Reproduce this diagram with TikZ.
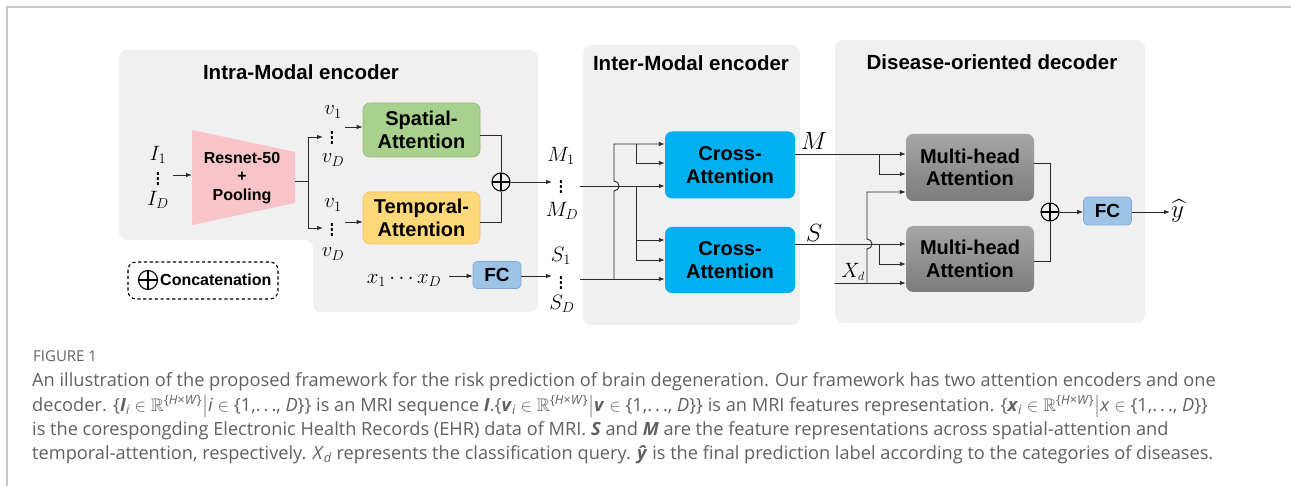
\documentclass[tikz,border=0pt]{standalone}
\usepackage{amsmath,amssymb}
\usepackage{fontspec}
\setmainfont{Liberation Sans}
\newfontfamily\capfont{Open Sans}
\usetikzlibrary{arrows.meta,calc}
\definecolor{panel}{HTML}{F0F0F0}
\definecolor{framec}{HTML}{C8C8C8}
\definecolor{greenf}{HTML}{A9D18E}
\definecolor{greend}{HTML}{8DBD72}
\definecolor{yelf}{HTML}{FFD87A}
\definecolor{yeld}{HTML}{EFC46A}
\definecolor{fcf}{HTML}{9DC3E6}
\definecolor{fcd}{HTML}{7FA8D4}
\definecolor{cyanf}{HTML}{00B0F0}
\definecolor{pinkf}{HTML}{F8C4C8}
\definecolor{linec}{HTML}{2A2A2A}
\definecolor{capgray}{HTML}{606060}
\definecolor{mhtop}{HTML}{A6A6A6}
\definecolor{mhbot}{HTML}{7C7C7C}
\newcommand\boxfont{\bfseries\fontsize{20}{22.5}\selectfont}
\newcommand\mlab{\fontsize{20.74}{20.74}\selectfont}
\newcommand\capsz{\capfont\fontsize{18.2}{24}\selectfont}
\newcommand\tallvdots{\scalebox{1}[1.35]{$\vdots$}}
\tikzset{
  ttl/.style={font=\bfseries\fontsize{20.5}{22}\selectfont, inner sep=0pt},
  blk/.style={rounded corners=7pt, align=center, font=\boxfont, inner sep=0pt},
  mbox/.style={blk, minimum width=128pt, minimum height=67pt, draw=none,
     top color=mhtop, bottom color=mhbot},
  cbox/.style={blk, minimum width=130pt, minimum height=67pt, fill=cyanf},
  fcbox/.style={rounded corners=4pt, fill=fcf, draw=fcd, line width=0.6pt,
     font=\bfseries\fontsize{19}{19}\selectfont, minimum width=48pt, minimum height=27pt, inner sep=0pt},
  lab/.style={font=\mlab, inner sep=0pt},
  biglab/.style={font=\fontsize{24.88}{24.88}\selectfont, inner sep=0pt},
  ln/.style={line width=0.9pt, draw=linec},
  arr/.style={ln, -{Latex[length=6pt,width=4.5pt]}},
  opl/.style={circle, draw=black, line width=1.1pt, minimum size=18pt, inner sep=0pt,
     path picture={\draw[line width=1.1pt] (path picture bounding box.north) -- (path picture bounding box.south)
       (path picture bounding box.west) -- (path picture bounding box.east);}},
  captext/.style={font=\capsz, text=capgray, inner sep=0pt, anchor=base west}
}
\begin{document}
\begin{tikzpicture}[x=1pt,y=-1pt]
\useasboundingbox (0,0) rectangle (1291,486);
% frame
\draw[framec, line width=1.5pt] (7,486) -- (7,7) -- (1291,7);
% panels
\fill[panel, rounded corners=8pt] (119,50) -- (538,50) -- (538,312) -- (313,312) -- (313,240) -- (119,240) -- cycle;
\fill[panel, rounded corners=8pt] (583,45) rectangle (800,325);
\fill[panel, rounded corners=8pt] (835,40) rectangle (1145,323);
\node[ttl] (t1) at (301,72) {Intra-Modal encoder};
\node[ttl] (t2) at (691,63) {Inter-Modal encoder};
\node[ttl] (t3) at (992,62) {Disease-oriented decoder};

% ---------- intra-modal ----------
\node[lab] (I1) at (158,155) {$I_1$};
\node[lab] (Id) at (158,175) {\tallvdots};
\node[lab] (ID) at (158,200) {$I_D$};
\fill[pinkf] (192,130) -- (295,152) -- (295,203) -- (192,225) -- cycle;
\node[align=center, font=\bfseries\fontsize{16}{18.5}\selectfont, inner sep=0pt] (resnet) at (242,178) {Resnet-50\\+\\Pooling};
\coordinate (iA) at (173,175);
\coordinate (rnL) at (192,175);
\coordinate (rnR) at (295,181);
\coordinate (fork) at (308,181);
\coordinate (fkT) at (308,137);
\coordinate (fkB) at (308,228);
\draw[arr] (iA) -- (rnL);
\draw[ln] (rnR) -- (fork);
\draw[ln] (fkT) -- (fkB);

\node[lab] (v1a) at (333,112) {$v_1$};
\node[lab] (vda) at (332,134) {\tallvdots};
\node[lab] (vDa) at (333,160) {$v_D$};
\node[lab] (v1b) at (333,205) {$v_1$};
\node[lab] (vdb) at (332,226) {\tallvdots};
\node[lab] (vDb) at (333,254) {$v_D$};
\coordinate (ta) at (323,137);
\coordinate (tb) at (323,228);
\draw[arr] (fkT) -- (ta);
\draw[arr] (fkB) -- (tb);

\node[blk, minimum width=117pt, minimum height=54pt, fill=greenf, draw=greend, line width=0.6pt] (sp) at (421.5,130) {Spatial-\\Attention};
\node[blk, minimum width=117pt, minimum height=52pt, fill=yelf, draw=yeld, line width=0.6pt] (tp) at (421.5,218) {Temporal-\\Attention};
\coordinate (sa) at (345,127);
\coordinate (tpa) at (345,222);
\draw[arr] (sa) -- (sa -| sp.west);
\draw[arr] (tpa) -- (tpa -| tp.west);

\node[opl] (op1) at (501,182) {};
\coordinate (spo) at (480,135);
\coordinate (tpo) at (480,222);
\draw[ln] (spo) -| (op1.north);
\draw[ln] (tpo) -| (op1.south);
\coordinate (mIn) at (552,182);
\draw[arr] (op1.east) -- (mIn);

\node[lab] (xs) at (404,280) {$x_1 \cdots x_D$};
\node[fcbox] (fc1) at (497,275) {FC};
\coordinate (xa) at (449,276);
\coordinate (sIn) at (552,276);
\draw[arr] (xa) -- (fc1.west |- xa);
\draw[arr] (fc1.east |- xa) -- (sIn);

% legend
\draw[line width=1.1pt, dash pattern=on 3.2pt off 2.6pt, rounded corners=8pt] (128,262) rectangle (278,299);
\node[opl, minimum size=19pt] (opl3) at (148,280) {};
\node[font=\bfseries\fontsize{16}{16}\selectfont, anchor=west, inner sep=0pt] (concat) at (160,280) {Concatenation};

% ---------- inter-modal ----------
\node[lab] (M1) at (561,156) {$M_1$};
\node[lab] (Md) at (561,183) {\tallvdots};
\node[lab] (MD) at (562,211) {$M_D$};
\node[lab] (S1) at (561,256) {$S_1$};
\node[lab] (Sd) at (561,279) {\tallvdots};
\node[lab] (SD) at (562,304) {$S_D$};

\node[cbox] (c1) at (730,165) {Cross-\\Attention};
\node[cbox, minimum height=66pt] (c2) at (730,260) {Cross-\\Attention};
\coordinate (mA) at (580,186);
\coordinate (sA) at (580,279);
\draw[arr] (mA) -- (mA -| c1.west);
\draw[arr] (sA) -- (sA -| c2.west);
\coordinate (j1) at (614,279);
\draw[arr] (j1) -- (614,191) arc[start angle=-90, end angle=90, radius=5pt] -- (614,144) -- (c1.west |- 614,144);
\draw[arr] (636,144) -- (636,163) -- (c1.west |- 636,163);
\coordinate (j2) at (636,186);
\draw[arr] (j2) -- (636,260) -- (c2.west |- 636,260);
\draw[arr] (636,240) -- (c2.west |- 636,240);

% ---------- decoder ----------
\node[mbox] (m1) at (970,167.5) {Multi-head\\Attention};
\node[mbox, minimum height=66pt] (m2) at (970,259) {Multi-head\\Attention};
\node[biglab] (Mlab) at (814,141) {$M$};
\node[biglab] (Slab) at (814,233) {$S$};
\node[font=\fontsize{20.74}{20.74}\selectfont, inner sep=0pt] (Xlab) at (853,272) {$X_{\scriptscriptstyle d}$};
\draw[arr] (c1.east |- 0,154) -- (m1.west |- 0,154);
\draw[arr] (879,154) -- (879,174) -- (m1.west |- 0,174);
\draw[arr] (c2.east |- 0,244) -- (m2.west |- 0,244);
\draw[arr] (879,244) -- (879,264) -- (m2.west |- 0,264);
\coordinate (xd) at (835,283);
\draw[arr] (xd) -- (m2.west |- xd);
\draw[arr] (867,283) -- (867,249) arc[start angle=-90, end angle=90, radius=5pt] -- (867,192) -- (m1.west |- 0,192);

\node[opl] (op2) at (1050,212) {};
\draw[ln] (m1.east |- 0,163) -| (op2.north);
\draw[ln] (m2.east |- 0,261) -| (op2.south);
\node[fcbox, minimum height=28pt] (fc2) at (1107.5,211) {FC};
\draw[arr] (op2.east) -- (fc2.west |- op2.east);
\coordinate (yo) at (1170,212);
\draw[arr] (fc2.east |- yo) -- (yo);
\node[biglab, anchor=west] (yhat) at (1171,211) {$\widehat{y}$};

% ---------- caption ----------
\node[captext, font=\capfont\fontsize{15}{15}\selectfont, text=capgray] (fig) at (33,362) {FIGURE 1};
\node[captext] (c1l) at (32,387) {An illustration of the proposed framework for the risk prediction of brain degeneration. Our framework has two attention encoders and one};
\node[captext] (c2l) at (32,411) {decoder. \{\textbf{\textit{I}}\textsubscript{\textit{i}} $\in\mathbb{R}$\textsuperscript{\{\textit{H}×\textit{W}\}}$\big|$\textit{i} $\in$ \{1,.\,.\,., \textit{D}\}\} is an MRI sequence \textbf{\textit{I}}.\{\textbf{\textit{v}}\textsubscript{\textit{i}} $\in\mathbb{R}$\textsuperscript{\{\textit{H}×\textit{W}\}}$\big|$\textbf{\textit{v}} $\in$ \{1,.\,.\,., \textit{D}\}\} is an MRI features representation. \{\textbf{\textit{x}}\textsubscript{\textit{i}} $\in\mathbb{R}$\textsuperscript{\{\textit{H}×\textit{W}\}}$\big|$\textit{x} $\in$ \{1,.\,.\,., \textit{D}\}\}};
\node[captext] (c3l) at (32,435) {is the corespongding Electronic Health Records (EHR) data of MRI. \textbf{\textit{S}} and \textbf{\textit{M}} are the feature representations across spatial-attention and};
\node[captext] (c4l) at (32,459) {temporal-attention, respectively. \textit{X}\textsubscript{\textit{d}} represents the classification query. \textbf{\textit{ŷ}} is the final prediction label according to the categories of diseases.};
\end{tikzpicture}
\end{document}
